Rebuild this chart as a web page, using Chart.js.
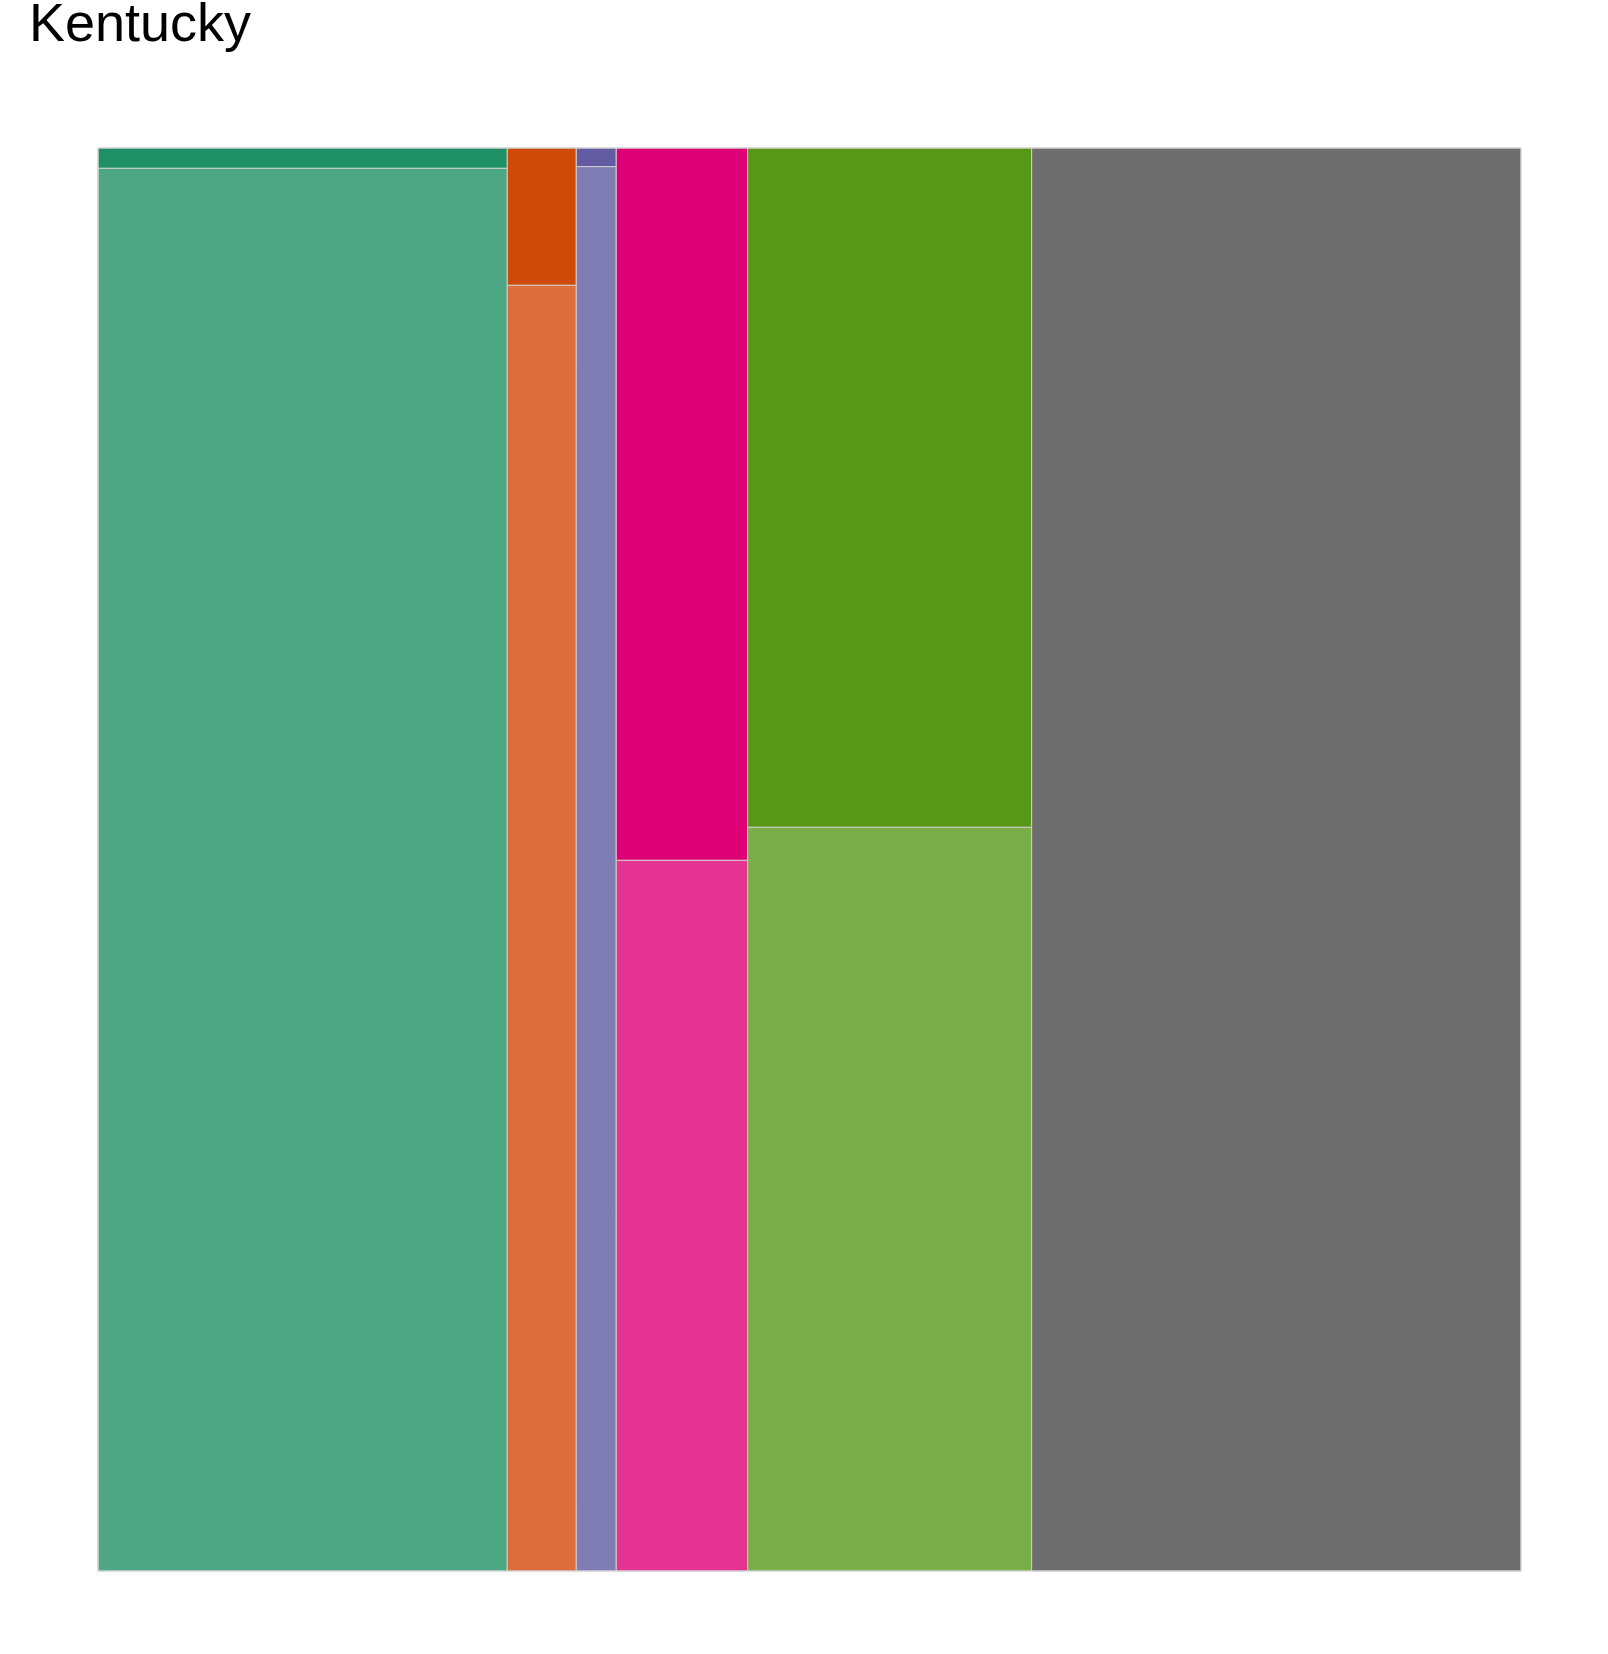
<!DOCTYPE html>
<html>
<head>
<meta charset="utf-8">
<script src="https://cdn.jsdelivr.net/npm/chart.js@4.4.1/dist/chart.umd.min.js"></script>
<style>
html,body{margin:0;padding:0;background:#fff;}
#wrap{width:1608px;height:1654px;position:relative;}
</style>
</head>
<body>
<div id="wrap"><canvas id="c" width="1608" height="1654"></canvas></div>
<script>
// Column groups (left to right), share of total width
const categories = ['A', 'B', 'C', 'D', 'E', 'F'];
const columnShares = [0.2876, 0.0485, 0.0281, 0.0923, 0.1996, 0.3439];
// Share of each column taken by the upper (darker) segment
const upperShares = [0.0143, 0.0965, 0.0131, 0.5006, 0.4774, 0.0];
const upperColors = ['#1f8f66', '#cf4a06', '#635ca3', '#de0077', '#579818', '#494949'];
const lowerColors = ['#4ea784', '#db6e3b', '#807db5', '#e43391', '#79ad48', '#6d6d6d'];
const titleText = 'Kentucky';

// Build rectangles (in data units 0..1) from the arrays
const datasets = [];
let x0 = 0;
categories.forEach((cat, i) => {
  const x1 = x0 + columnShares[i];
  const ySplit = 1 - upperShares[i];
  const rects = [
    {y0: ySplit, y1: 1, color: upperColors[i], name: cat + ' upper'},
    {y0: 0, y1: ySplit, color: lowerColors[i], name: cat + ' lower'}
  ];
  rects.forEach(r => {
    if (r.y1 - r.y0 <= 0) return;
    datasets.push({
      label: r.name,
      data: [{x: x0, y: r.y0}, {x: x1, y: r.y0}, {x: x1, y: r.y1}, {x: x0, y: r.y1}],
      backgroundColor: r.color,
      pointRadius: 0,
      showLine: false,
      rectFill: r.color
    });
  });
  x0 = x1;
});

const rectPlugin = {
  id: 'rects',
  beforeDatasetsDraw(chart) {
    const ctx = chart.ctx;
    chart.data.datasets.forEach((ds, i) => {
      const pts = chart.getDatasetMeta(i).data;
      ctx.save();
      ctx.beginPath();
      pts.forEach((p, k) => { if (k === 0) ctx.moveTo(p.x, p.y); else ctx.lineTo(p.x, p.y); });
      ctx.closePath();
      ctx.fillStyle = ds.rectFill;
      ctx.fill();
      ctx.lineWidth = 1;
      ctx.strokeStyle = '#cfcfcf';
      ctx.stroke();
      ctx.restore();
    });
    const a = chart.chartArea;
    ctx.save();
    ctx.strokeStyle = '#d3d3d3';
    ctx.lineWidth = 1;
    ctx.strokeRect(a.left, a.top, a.right - a.left, a.bottom - a.top);
    ctx.restore();
  },
  afterDraw(chart) {
    const ctx = chart.ctx;
    ctx.save();
    ctx.fillStyle = '#000';
    ctx.font = '54px "Liberation Sans", Arial, sans-serif';
    ctx.textBaseline = 'alphabetic';
    ctx.fillText(titleText, 29, 41);
    ctx.restore();
  }
};

new Chart(document.getElementById('c'), {
  type: 'scatter',
  data: {datasets},
  options: {
    responsive: false,
    animation: false,
    devicePixelRatio: 1,
    layout: {padding: {left: 98, top: 148, right: 87, bottom: 83}},
    plugins: {legend: {display: false}, tooltip: {enabled: false}, title: {display: false}},
    scales: {
      x: {type: 'linear', min: 0, max: 1, display: false},
      y: {type: 'linear', min: 0, max: 1, display: false}
    }
  },
  plugins: [rectPlugin]
});
</script>
</body>
</html>
